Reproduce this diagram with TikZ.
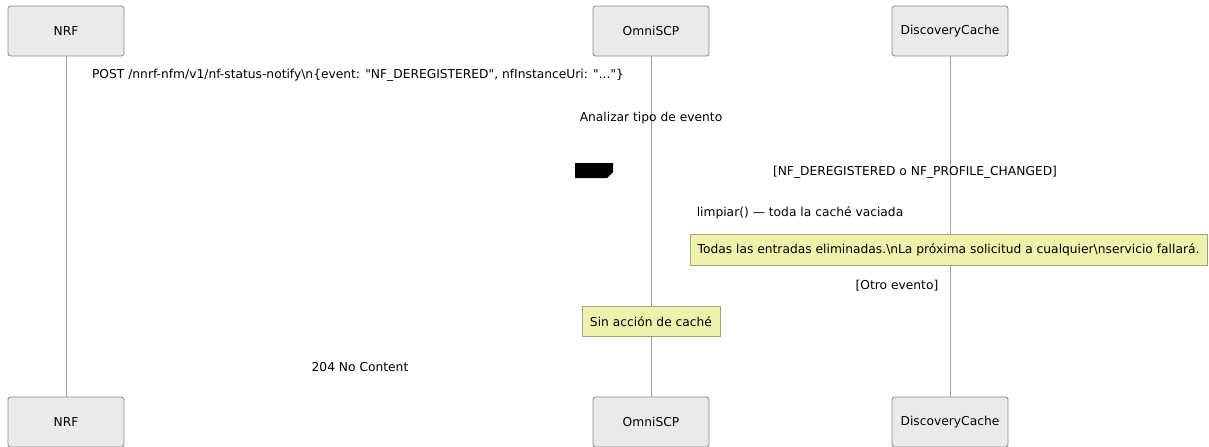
\documentclass[tikz,border=0pt]{standalone}
\usepackage{fontspec}
\newfontfamily\dejavu{DejaVu Sans}
\usepackage{xcolor}
\usetikzlibrary{positioning}

\definecolor{actorfill}{HTML}{EAEAEA}
\definecolor{actorline}{HTML}{888888}
\definecolor{notefill}{HTML}{EEF2AC}
\definecolor{noteline}{HTML}{A3A37A}
\definecolor{lifeline}{HTML}{A0A0A0}

\begin{document}
\begin{tikzpicture}[
    x=0.75pt, y=-0.75pt,
    font=\dejavu\fontsize{9.2pt}{11pt}\selectfont,
    actor/.style={rectangle, draw=actorline, fill=actorfill, rounded corners=2pt, minimum width=87pt, minimum height=37.5pt, inner sep=0pt, line width=0.6pt},
    note/.style={rectangle, draw=noteline, fill=notefill, minimum height=23pt, inner sep=0pt, line width=0.6pt},
    msg/.style={inner sep=0pt, anchor=center},
    life/.style={draw=lifeline, line width=0.75pt}
]
\useasboundingbox (0,0) rectangle (1209,446);

% Actors
\node [actor] (nrf) at (66,31) {NRF};
\node [actor] (scp) at (651,31) {OmniSCP};
\node [actor] (cache) at (950,31) {DiscoveryCache};
\node [actor] (nrfb) at (66,422) {NRF};
\node [actor] (scpb) at (651,422) {OmniSCP};
\node [actor] (cacheb) at (950,422) {DiscoveryCache};

% Lifelines
\draw [life] (nrf) -- (nrfb);
\draw [life] (scp) -- (scpb);
\draw [life] (cache) -- (cacheb);

% Messages
\node [msg] (post) at (358,75) {POST /nnrf-nfm/v1/nf-status-notify\textbackslash n\{event: "NF\_DEREGISTERED", nfInstanceUri: "..."\}};
\node [msg] (analizar) at (651,118) {Analizar tipo de evento};
\node [msg] (alt1) at (915,172) {[NF\_DEREGISTERED o NF\_PROFILE\_CHANGED]};
\node [msg] (limpiar) at (800,213) {limpiar() — toda la caché vaciada};
\node [msg] (alt2) at (897,286) {[Otro evento]};
\node [msg] (resp) at (360,367) {204 No Content};

% Label box
\fill [black] (575,163) -- (613,163) -- (613,172) -- (607,178) -- (575,178) -- cycle;

% Notes
\node [note, minimum width=387.75pt] (vaciada) at (948.5,250) {Todas las entradas eliminadas.\textbackslash nLa próxima solicitud a cualquier\textbackslash nservicio fallará.};
\node [note, minimum width=103.5pt] (sinaccion) at (651,321.5) {Sin acción de caché};

\end{tikzpicture}
\end{document}
